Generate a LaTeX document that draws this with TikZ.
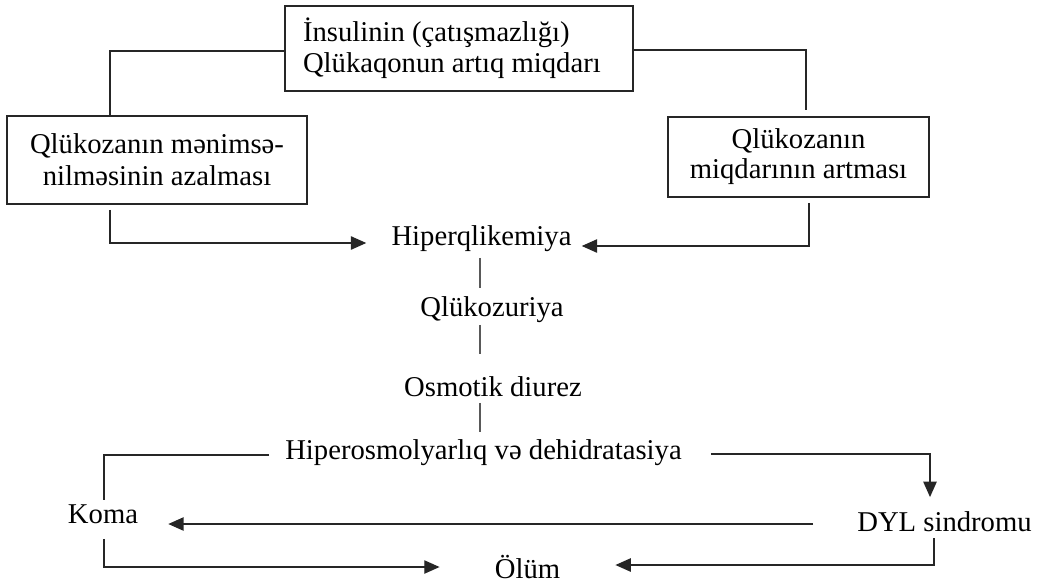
\documentclass[tikz,border=0pt]{standalone}
\usepackage{fontspec}
\setmainfont{Liberation Serif}
\usetikzlibrary{arrows.meta,calc}
\begin{document}
\begin{tikzpicture}[x=0.75pt,y=-0.75pt,
  font=\fontsize{21.5}{23}\selectfont,
  box/.style={draw=black!85,line width=1.2pt,inner sep=0pt},
  lbl/.style={inner sep=0pt,text height=14pt,text depth=5pt},
  conn/.style={line width=1pt,draw=black!85},
  arr/.style={conn,-{Triangle[length=11.5pt,width=10pt]}},
  thin/.style={line width=0.8pt,draw=gray!70!black}]
\useasboundingbox (0,0) rectangle (1045,583);
% boxes
\node[box,minimum width=261pt,minimum height=63.75pt,text width=234pt,align=flush left,inner xsep=13.5pt] (top) at (459,48.5)
  {İnsulinin (çatışmazlığı)\\Qlükaqonun artıq miqdarı};
\node[box,minimum width=225pt,minimum height=66pt,align=center,font=\fontsize{21.5}{24}\selectfont] (lbox) at (157,160)
  {Qlükozanın mənimsə-\\nilməsinin azalması};
\node[box,minimum width=195.75pt,minimum height=60pt,align=center,font=\fontsize{21.5}{22.5}\selectfont] (rbox) at (798.5,157)
  {Qlükozanın\\miqdarının artması};
% text nodes
\node[lbl] (hq) at (481.5,239) {Hiperqlikemiya};
\node[lbl] (qz) at (492,310) {Qlükozuriya};
\node[lbl] (od) at (493,390) {Osmotik diurez};
\node[lbl] (ho) at (483.5,453) {Hiperosmolyarlıq və dehidratasiya};
\node[lbl] (koma) at (103,517) {Koma};
\node[lbl] (dyl) at (944.5,525) {DYL sindromu};
\node[lbl] (olum) at (527.5,572) {Ölüm};
% helper coordinates
\coordinate (lx) at (110,0);
\coordinate (rx) at (806,0);
\coordinate (rx2) at (809,0);
\coordinate (mx) at (480,0);
% connectors
\draw[conn] ($(top.west)+(0,2.5)$) -| (lbox.north -| lx);
\draw[conn] ($(top.east)+(0,1.5)$) -| ($(rbox.north -| rx)+(0,-6)$);
\draw[arr] ($(lbox.south -| lx)+(0,5)$) |- ($(hq.west)+(-25,4)$);
\draw[arr] ($(rbox.south -| rx2)+(0,5)$) |- ($(hq.east)+(10,7)$);
\draw[thin] ($(hq.south -| mx)+(0,6)$) -- ($(qz.north -| mx)+(0,-9)$);
\draw[thin] ($(qz.south -| mx)+(0,2)$) -- ($(od.north -| mx)+(0,-23)$);
\draw[thin] ($(od.south -| mx)+(0,0)$) -- ($(ho.north -| mx)+(0,-8)$);
\draw[conn] ($(ho.west)+(-16,2)$) -| ($(koma.north)+(1,-4)$);
\draw[arr] ($(ho.east)+(29,1)$) -| ($(dyl.north)+(-14.5,-15)$);
\draw[arr] ($(dyl.west)+(-44,-1)$) -- ($(koma.east |- dyl.west)+(30,-1)$);
\draw[arr] ($(koma.south)+(1,9)$) |- ($(olum.west)+(-55,-5)$);
\draw[arr] ($(dyl.south)+(-10.5,0.3)$) |- ($(olum.east)+(55,-7)$);
\end{tikzpicture}
\end{document}
